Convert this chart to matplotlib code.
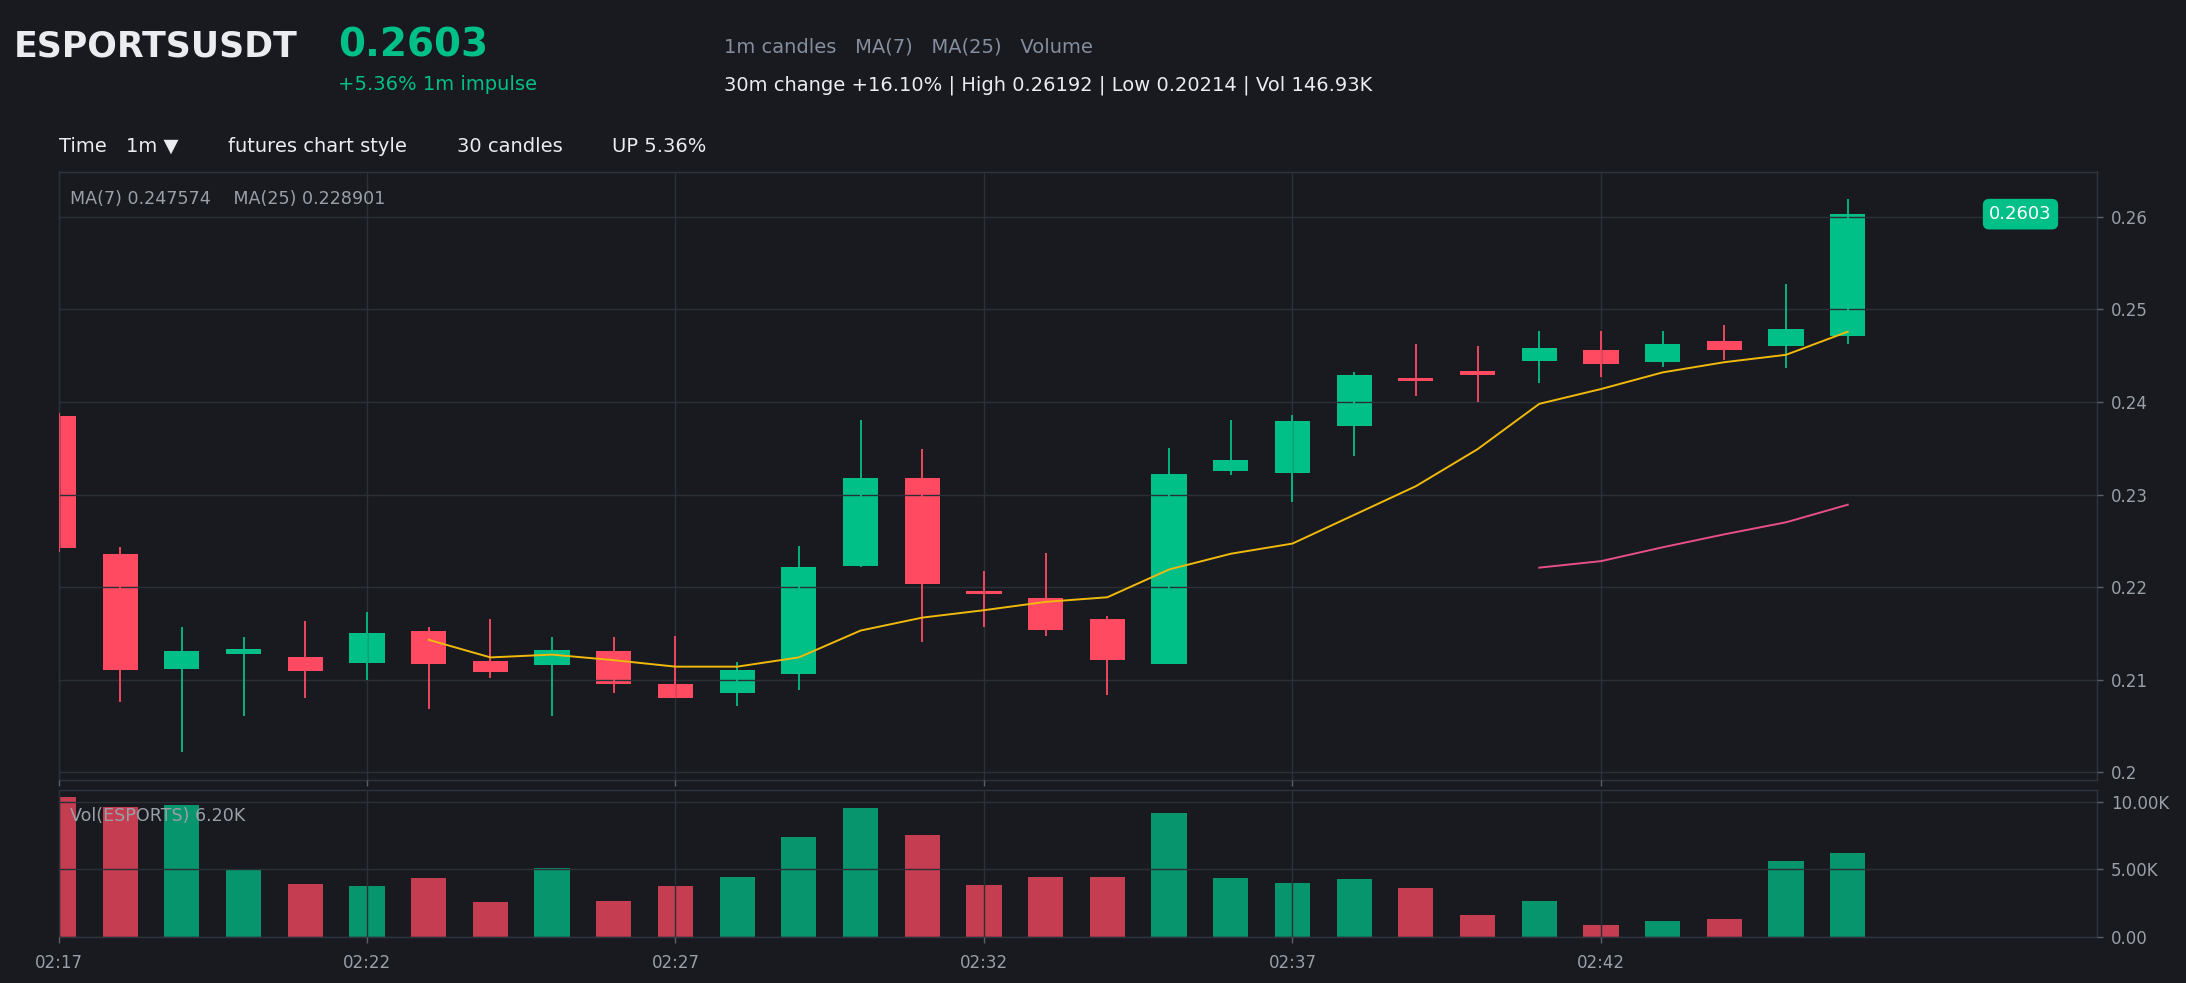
import numpy as np
import matplotlib.pyplot as plt

# colours
bg = '#181a20'
up_c = '#00c087'
dn_c = '#ff4a62'
grid_c = '#2b2f36'
txt_gray = '#848e9c'
tick_gray = '#9aa0a8'

# 1m candles, 02:17 .. 02:46
times = ['02:17', '02:18', '02:19', '02:20', '02:21', '02:22', '02:23', '02:24', '02:25', '02:26',
         '02:27', '02:28', '02:29', '02:30', '02:31', '02:32', '02:33', '02:34', '02:35', '02:36',
         '02:37', '02:38', '02:39', '02:40', '02:41', '02:42', '02:43', '02:44', '02:45', '02:46']
opens = [0.2385, 0.2236, 0.2112, 0.2128, 0.2124, 0.2118, 0.2153, 0.2120, 0.2116, 0.2131,
         0.2095, 0.2086, 0.2106, 0.2223, 0.2318, 0.2196, 0.2188, 0.2165, 0.2117, 0.2325,
         0.2323, 0.2374, 0.2425, 0.2433, 0.2444, 0.2456, 0.2443, 0.2466, 0.2461, 0.2471]
highs = [0.2388, 0.2243, 0.2157, 0.2146, 0.2163, 0.2173, 0.2157, 0.2165, 0.2146, 0.2146,
         0.2147, 0.2119, 0.2244, 0.2381, 0.2349, 0.2217, 0.2237, 0.2169, 0.2350, 0.2381,
         0.2386, 0.2432, 0.2463, 0.2461, 0.2477, 0.2477, 0.2477, 0.2483, 0.2528, 0.26192]
lows = [0.2238, 0.2076, 0.20214, 0.2061, 0.2080, 0.2100, 0.2068, 0.2102, 0.2061, 0.2085,
        0.2080, 0.2072, 0.2089, 0.2222, 0.2141, 0.2157, 0.2147, 0.2083, 0.2117, 0.2321,
        0.2292, 0.2342, 0.2406, 0.2400, 0.2421, 0.2427, 0.2438, 0.2445, 0.2437, 0.2463]
closes = [0.2242, 0.2110, 0.2131, 0.2133, 0.2109, 0.2150, 0.2117, 0.2108, 0.2132, 0.2095,
          0.2080, 0.2110, 0.2222, 0.2318, 0.2203, 0.2192, 0.2154, 0.2121, 0.2322, 0.2337,
          0.2380, 0.2429, 0.2423, 0.2429, 0.2458, 0.2441, 0.2463, 0.2456, 0.2479, 0.2603]
vols_k = [10.37, 9.6, 9.75, 4.96, 3.95, 3.80, 4.37, 2.61, 5.09, 2.70,
          3.80, 4.47, 7.44, 9.55, 7.59, 3.82, 4.42, 4.47, 9.18, 4.37,
          4.02, 4.27, 3.65, 1.64, 2.63, 0.92, 1.19, 1.34, 5.61, 6.20]
nan = float('nan')
ma7 = [nan] * 6 + [0.2143, 0.2124, 0.2127, 0.2121, 0.2114, 0.2114, 0.2124, 0.2153, 0.2167, 0.2175,
                   0.2184, 0.2189, 0.2219, 0.2236, 0.2247, 0.2278, 0.2309, 0.2349, 0.2398, 0.2414,
                   0.2432, 0.2443, 0.2451, 0.2476]
ma25 = [nan] * 24 + [0.2221, 0.2228, 0.2243, 0.2257, 0.2270, 0.2289]

price_ticks = [0.20, 0.21, 0.22, 0.23, 0.24, 0.25, 0.26]
price_labels = ['0.2', '0.21', '0.22', '0.23', '0.24', '0.25', '0.26']
vol_ticks = [0, 5, 10]
vol_labels = ['0.00', '5.00K', '10.00K']
xtick_idx = [0, 5, 10, 15, 20, 25]

x = np.arange(len(times))
colors = [up_c if c >= o else dn_c for o, c in zip(opens, closes)]

W, H = 2186, 983
fig = plt.figure(figsize=(W / 100, H / 100), dpi=100, facecolor=bg)

ax = fig.add_axes([58.5 / W, 1 - 780 / H, (2097 - 58.5) / W, (780 - 171.5) / H])
axv = fig.add_axes([58.5 / W, 1 - 937 / H, (2097 - 58.5) / W, (937 - 790) / H])

for a in (ax, axv):
    a.set_facecolor(bg)
    a.set_axisbelow(False)
    for s in a.spines.values():
        s.set_color('#30353d')
        s.set_linewidth(1)
    a.grid(True, color=grid_c, linewidth=1)
    a.yaxis.tick_right()
    a.tick_params(colors=tick_gray, labelsize=12, length=4.5, width=1, pad=5.5)
    a.tick_params(axis='both', color='#5a606a')
    a.set_xlim(0, 33.04)
    a.set_xticks(xtick_idx)

# candles
bottoms = [min(o, c) for o, c in zip(opens, closes)]
heights = [max(abs(c - o), 0.00025) for o, c in zip(opens, closes)]
ax.vlines(x, lows, highs, colors=colors, linewidth=1.3, zorder=3)
ax.bar(x, heights, bottom=bottoms, width=0.57, color=colors, linewidth=0, zorder=1)
ax.plot(x, ma7, color='#f0b90b', linewidth=1.4, zorder=4)
ax.plot(x, ma25, color='#e84e8a', linewidth=1.4, zorder=4)

lo, hi = min(lows), max(highs)
pad = (hi - lo) * 0.05
ax.set_ylim(lo - pad, hi + pad)
ax.set_yticks(price_ticks)
ax.set_yticklabels(price_labels)
ax.set_xticklabels([])

ax.text(0.0055, 0.955, 'MA(7) 0.247574    MA(25) 0.228901', transform=ax.transAxes,
        color=tick_gray, fontsize=12.6, va='center', ha='left')
ax.text(31.8, closes[-1], '0.2603', color='white', fontsize=13, ha='center', va='center',
        bbox=dict(boxstyle='round,pad=0.35', fc=up_c, ec='none'), zorder=6)

# volume
axv.bar(x, vols_k, width=0.57, color=colors, alpha=0.75, linewidth=0, zorder=1)
axv.set_ylim(0, max(vols_k) * 1.05)
axv.set_yticks(vol_ticks)
axv.set_yticklabels(vol_labels)
axv.set_xticklabels([times[i] for i in xtick_idx])
axv.tick_params(axis='x', pad=8)
axv.text(0.0055, 0.82, 'Vol(ESPORTS) 6.20K', transform=axv.transAxes,
         color=tick_gray, fontsize=12.6, va='center', ha='left')

# header
def ftxt(px, py, s, **kw):
    fig.text(px / W, 1 - py / H, s, va='center', ha='left', **kw)

ftxt(14, 46.5, 'ESPORTSUSDT', color='#eaecef', fontsize=25, fontweight='bold')
ftxt(338, 45.5, '0.2603', color=up_c, fontsize=28, fontweight='bold')
ftxt(338, 84, '+5.36% 1m impulse', color=up_c, fontsize=14)
ftxt(724, 47, '1m candles   MA(7)   MA(25)   Volume', color=txt_gray, fontsize=14)
ftxt(724, 85, '30m change +16.10% | High 0.26192 | Low 0.20214 | Vol 146.93K',
     color='#eaecef', fontsize=14)
ftxt(59, 146.5, 'Time', color='#eaecef', fontsize=14)
ftxt(126, 146.5, '1m \u25bc', color='#eaecef', fontsize=14)
ftxt(228, 146.5, 'futures chart style', color='#eaecef', fontsize=14)
ftxt(457, 146.5, '30 candles', color='#eaecef', fontsize=14)
ftxt(612, 146.5, 'UP 5.36%', color='#eaecef', fontsize=14)

fig.savefig('out.png', dpi=100, facecolor=bg)
